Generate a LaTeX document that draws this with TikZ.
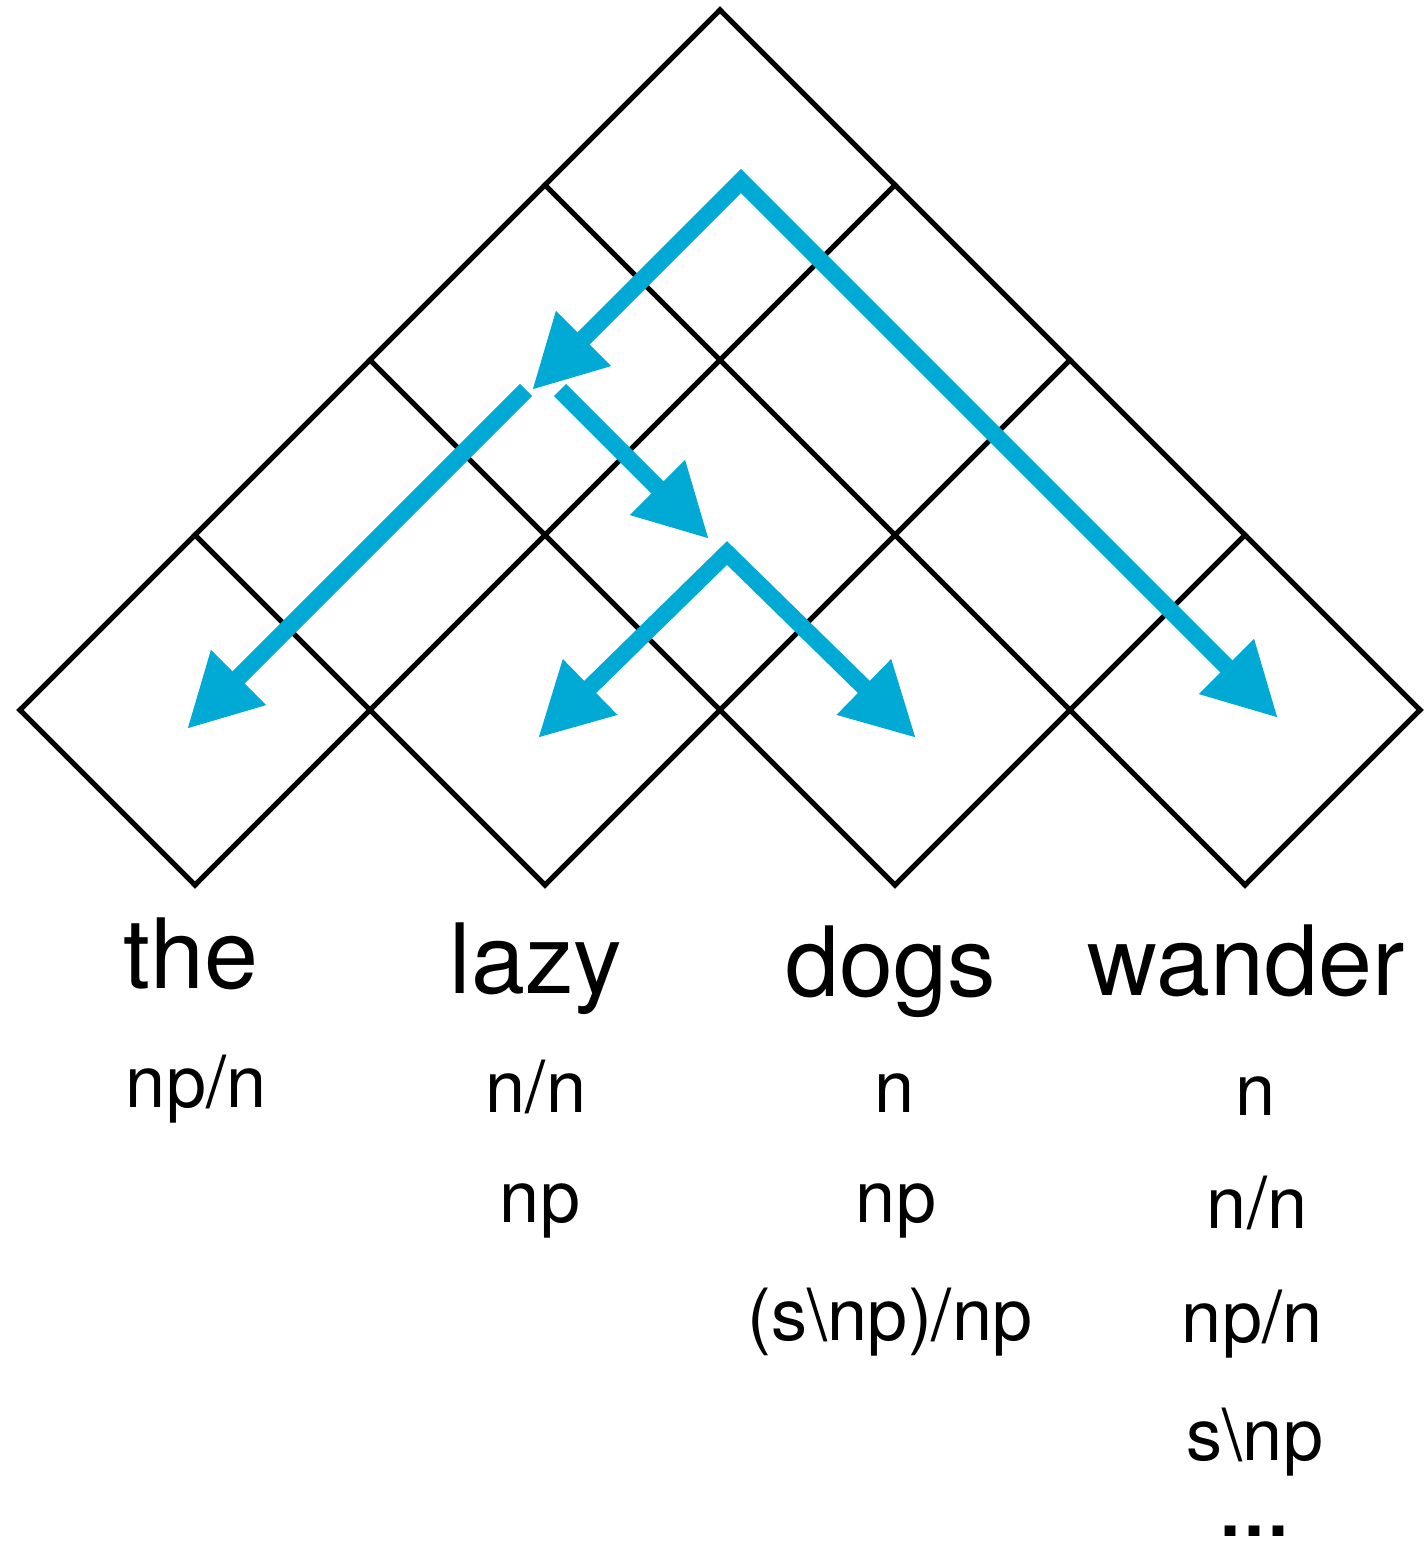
\documentclass[tikz,border=0pt]{standalone}
\usepackage{fontspec}
\setmainfont{TeX Gyre Heros}
\usetikzlibrary{arrows.meta}
\definecolor{chartblue}{RGB}{0,170,212}
\begin{document}
\begin{tikzpicture}[x=0.5pt,y=-0.5pt,
  chartline/.style={draw=black, line width=2.5pt, line cap=rect},
  derivarrow/.style={draw=chartblue, line width=8.5pt, line join=miter,
    -{Triangle[length=36.5pt,width=36.5pt]}},
  bothways/.style={draw=chartblue, line width=8.5pt, line join=miter,
    {Triangle[length=36.5pt,width=36.5pt]}-{Triangle[length=36.5pt,width=36.5pt]}},
  word/.style={anchor=base, inner sep=0pt, font=\fontsize{48.5pt}{58pt}\selectfont},
  cat/.style={anchor=base, inner sep=0pt, font=\fontsize{36pt}{43pt}\selectfont}]
\useasboundingbox (0,0) rectangle (1425,1542);

% chart cells: grid points (i,j) of the rotated triangular chart
\foreach \i in {0,...,5} {
  \foreach \j in {0,...,5} {
    \coordinate (g-\i-\j) at ({720+175*(\j-\i)},{10+175*(\i+\j)});
  }
}
% lines running down to the right
\foreach \i in {0,...,4} {
  \pgfmathtruncatemacro\jmax{min(4,5-\i)}
  \draw[chartline] (g-\i-0) -- (g-\i-\jmax);
}
% lines running down to the left
\foreach \j in {0,...,4} {
  \pgfmathtruncatemacro\imax{min(4,5-\j)}
  \draw[chartline] (g-0-\j) -- (g-\imax-\j);
}

% derivation arrows
\coordinate (p1) at (741,181);
\coordinate (a1l) at (532,390);
\coordinate (a1r) at (1278,718);
\coordinate (a2s) at (526,390);
\coordinate (a2t) at (187,729);
\coordinate (a3s) at (560,390);
\coordinate (a3t) at (709,539);
\coordinate (p3) at (727,553);
\coordinate (a4l) at (538,738);
\coordinate (a4r) at (916,738);

\draw[bothways] (a1l) -- (p1) -- (a1r);
\draw[derivarrow] (a2s) -- (a2t);
\draw[derivarrow] (a3s) -- (a3t);
\draw[bothways] (a4l) -- (p3) -- (a4r);

% words
\node[word] (w1) at (191,988) {the};
\node[word] (w2) at (536,993) {lazy};
\node[word] (w3) at (891,996) {dogs};
\node[word] (w4) at (1246,995) {wander};

% categories
\node[cat] (c11) at (196,1107) {np/n};
\node[cat] (c21) at (536,1112) {n/n};
\node[cat] (c22) at (540,1222) {np};
\node[cat] (c31) at (895,1112) {n};
\node[cat] (c32) at (896,1222) {np};
\node[cat] (c33) at (890,1340) {(s{\textbackslash}np)/np};
\node[cat] (c41) at (1256,1115) {n};
\node[cat] (c42) at (1257,1228) {n/n};
\node[cat] (c43) at (1252,1342) {np/n};
\node[cat] (c44) at (1255,1460) {s{\textbackslash}np};
\node[cat] (c45) at (1254,1536) {\bfseries …};
\end{tikzpicture}
\end{document}
